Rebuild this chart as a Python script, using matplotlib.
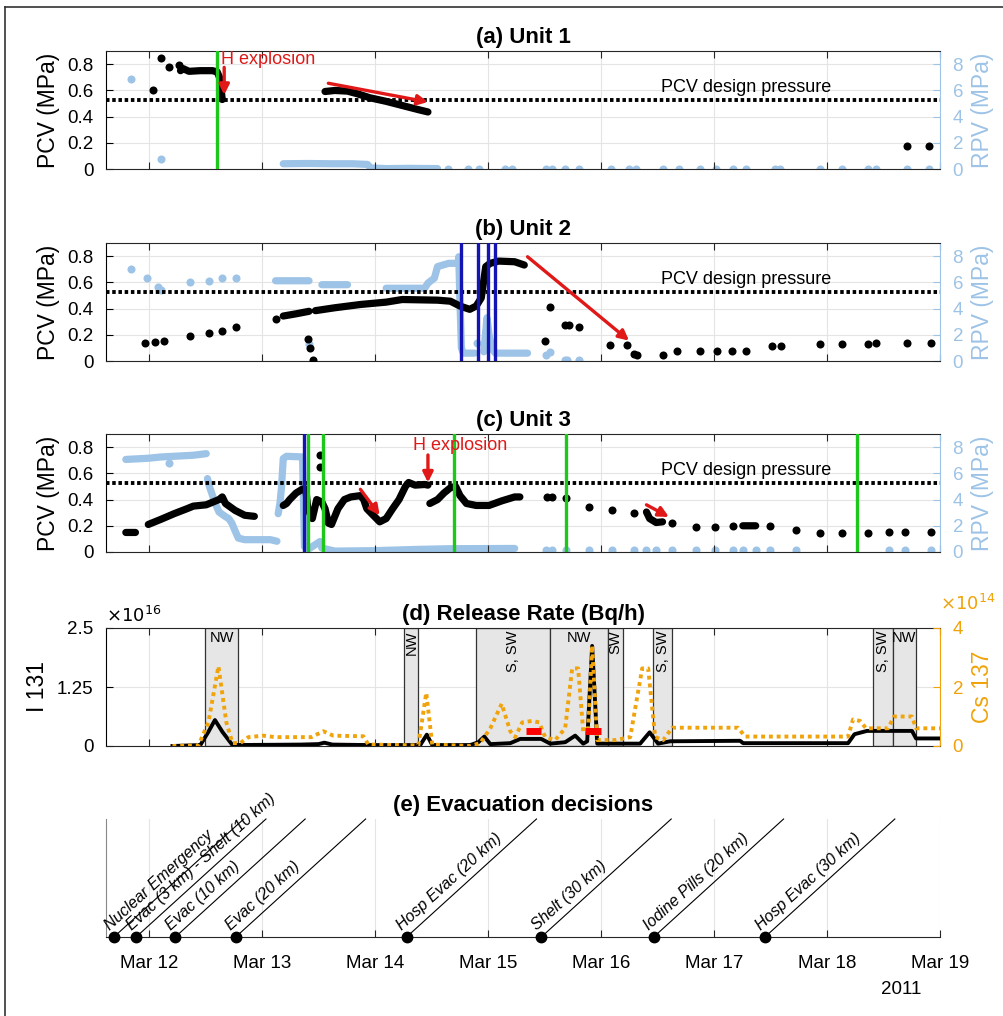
import numpy as np
import matplotlib
matplotlib.use('Agg')
import matplotlib.pyplot as plt
import matplotlib.dates as mdates
from matplotlib.lines import Line2D
from matplotlib.patches import Rectangle
from datetime import datetime

nan = np.nan

# ---------------- data (time = fractional day of March 2011) ----------------
DESIGN_PRESSURE = 0.528

# Unit 1
U1_PCV_LINE_T = [12.275, 12.30, 12.35, 12.45, 12.559, 12.60, 12.62, 12.635, 12.645, nan,
                 13.555, 13.641, 13.754, 13.84, 13.953, 14.096, 14.267, 14.38, 14.466]
U1_PCV_LINE_V = [0.75, 0.765, 0.745, 0.75, 0.75, 0.74, 0.70, 0.60, 0.53, nan,
                 0.591, 0.599, 0.594, 0.574, 0.543, 0.516, 0.478, 0.453, 0.435]
U1_PCV_DOT_T = [12.036, 12.104, 12.172, 12.263, 18.705, 18.905]
U1_PCV_DOT_V = [0.60, 0.843, 0.775, 0.795, 0.176, 0.176]
U1_RPV_LINE_T = [13.185, 13.4, 13.6, 13.8, 13.93, 13.96, 14.1, 14.3, 14.551]
U1_RPV_LINE_V = [0.4, 0.42, 0.4, 0.4, 0.35, 0.08, 0.03, 0.05, 0.03]
U1_RPV_DOT_T = [11.837, 12.104, 14.648, 14.819, 14.921, 15.149, 15.206, 15.507, 15.564,
                15.678, 15.803, 16.088, 16.247, 16.304, 16.543, 16.685, 16.873, 17.015,
                17.169, 17.283, 17.539, 17.579, 17.937, 18.136, 18.364, 18.432, 18.705, 18.905]
U1_RPV_DOT_V = [6.9, 0.75, 0.03, 0.03, 0.03, 0.03, 0.03, 0.03, 0.03, 0.03, 0.03, 0.03, 0.03,
                0.03, 0.03, 0.03, 0.03, 0.03, 0.03, 0.03, 0.03, 0.03, 0.03, 0.03, 0.03, 0.03,
                0.03, 0.03]
U1_GREEN = [12.599]
U1_BLUE = []

# Unit 2
U2_PCV_LINE_T = [13.185, 13.299, 13.413, nan, 13.470, 13.641, 13.868, 14.096, 14.238, 14.551,
                 14.665, 14.750, 14.836, 14.893, 14.938, 14.978, 15.018, 15.092, 15.234, 15.319]
U2_PCV_LINE_V = [0.343, 0.36, 0.379, nan, 0.384, 0.406, 0.431, 0.449, 0.469, 0.464,
                 0.456, 0.419, 0.394, 0.419, 0.481, 0.72, 0.745, 0.762, 0.757, 0.732]
U2_PCV_DOT_T = [11.962, 12.047, 12.133, 12.360, 12.531, 12.645, 12.770, 13.117, 13.402, 13.419,
                13.447, 15.501, 15.547, 15.678, 15.718, 15.803, 16.076, 16.230, 16.287, 16.315,
                16.543, 16.668, 16.873, 17.027, 17.158, 17.283, 17.511, 17.596, 17.937, 18.136,
                18.364, 18.432, 18.705, 18.916]
U2_PCV_DOT_V = [0.138, 0.148, 0.155, 0.188, 0.21, 0.228, 0.256, 0.318, 0.168, 0.10,
                0.005, 0.155, 0.414, 0.273, 0.273, 0.256, 0.125, 0.125, 0.05, 0.048,
                0.043, 0.078, 0.078, 0.078, 0.078, 0.078, 0.113, 0.113, 0.133, 0.13,
                0.13, 0.135, 0.138, 0.138]
U2_RPV_LINE_T = [13.117, 13.413, nan, 13.527, 13.754, nan, 14.096, 14.437, 14.466, 14.523,
                 14.551, 14.65, 14.733, 14.739, 14.748, 14.755, 14.762, 14.779, 14.881, nan,
                 14.961, 14.989, 15.007, 15.035, 15.063, 15.348]
U2_RPV_LINE_V = [6.12, 6.12, nan, 5.82, 5.82, nan, 5.55, 5.55, 5.94, 6.32,
                 7.2, 7.45, 7.45, 7.95, 5.0, 3.0, 1.0, 0.6, 0.6, nan,
                 0.7, 3.3, 2.0, 0.9, 0.6, 0.6]
U2_RPV_DOT_T = [11.837, 11.979, 12.076, 12.104, 12.360, 12.531, 12.645, 12.770, 13.413,
                14.904, 15.507, 15.547, 15.678, 15.701, 15.803]
U2_RPV_DOT_V = [7.02, 6.32, 5.64, 5.45, 6.02, 6.12, 6.32, 6.32, 1.3,
                1.4, 0.43, 0.68, 0.1, 0.1, 0.05]
U2_GREEN = []
U2_BLUE = [14.762, 14.910, 14.995, 15.063]

# Unit 3
U3_PCV_LINE_T = [11.791, 11.876, nan, 11.990, 12.104, 12.218, 12.332, 12.389, 12.503, 12.616,
                 12.645, 12.673, 12.759, 12.844, 12.929, nan,
                 13.185, 13.214, 13.242, 13.299, 13.356, 13.385, 13.402, 13.442, 13.481, 13.527,
                 13.555, 13.584, 13.612, 13.669, 13.726, 13.783, 13.868, 13.897, 13.925, 13.982,
                 14.039, 14.096, 14.153, 14.210, 14.267, 14.295, 14.352, 14.437, 14.466, nan,
                 14.483, 14.551, 14.608, 14.665, 14.711, 14.750, 14.807, 14.893, 15.007, 15.120,
                 15.234, 15.280, nan, 16.401, 16.429, 16.486, 16.543, nan, 17.254, 17.368]
U3_PCV_LINE_V = [0.149, 0.149, nan, 0.21, 0.25, 0.292, 0.33, 0.35, 0.36, 0.40,
                 0.42, 0.37, 0.317, 0.28, 0.272, nan,
                 0.355, 0.37, 0.40, 0.45, 0.48, 0.48, 0.33, 0.255, 0.40, 0.38,
                 0.33, 0.22, 0.21, 0.33, 0.40, 0.42, 0.43, 0.40, 0.33, 0.28,
                 0.23, 0.255, 0.33, 0.40, 0.50, 0.53, 0.51, 0.515, 0.51, nan,
                 0.37, 0.40, 0.45, 0.49, 0.50, 0.43, 0.37, 0.355, 0.355, 0.39,
                 0.42, 0.42, nan, 0.305, 0.255, 0.225, 0.23, nan, 0.20, 0.20]
U3_PCV_DOT_T = [13.510, 13.510, 15.519, 15.564, 15.689, 15.889, 16.099, 16.287, 16.628, 16.839,
                17.010, 17.169, 17.499, 17.727, 17.937, 18.136, 18.364, 18.546, 18.694, 18.916]
U3_PCV_DOT_V = [0.74, 0.65, 0.42, 0.42, 0.41, 0.34, 0.32, 0.30, 0.22, 0.19,
                0.19, 0.20, 0.195, 0.17, 0.145, 0.145, 0.145, 0.15, 0.155, 0.15]
U3_RPV_LINE_T = [11.791, 11.990, 12.104, 12.389, 12.503, nan,
                 12.514, 12.531, 12.559, 12.588, 12.616, 12.673, 12.702, 12.730, 12.759, 12.787,
                 12.844, 12.958, 13.072, 13.129, nan,
                 13.140, 13.157, 13.169, 13.185, 13.214, 13.356, 13.373, 13.385, 13.413, 13.510,
                 13.527, 13.641, 13.982, 14.381, 14.665, 15.234]
U3_RPV_LINE_V = [7.06, 7.15, 7.25, 7.38, 7.5, nan,
                 5.6, 5.0, 4.3, 3.6, 3.05, 2.7, 2.55, 2.2, 1.6, 1.06,
                 0.94, 0.94, 0.94, 0.82, nan,
                 2.92, 3.8, 4.9, 7.13, 7.3, 7.25, 0.4, 0.32, 0.25, 0.8,
                 0.3, 0.07, 0.1, 0.2, 0.25, 0.27]
U3_RPV_DOT_T = [12.172, 15.507, 15.564, 15.689, 15.889, 16.099, 16.287, 16.401, 16.486, 16.628,
                16.839, 17.010, 17.169, 17.254, 17.368, 17.499, 17.727, 18.546, 18.694, 18.916]
U3_RPV_DOT_V = [6.76, 0.12, 0.12, 0.12, 0.12, 0.12, 0.12, 0.12, 0.12, 0.12,
                0.12, 0.12, 0.12, 0.12, 0.12, 0.12, 0.12, 0.12, 0.12, 0.12]
U3_GREEN = [13.407, 13.538, 14.693, 15.689, 18.267]
U3_BLUE = [13.367]

# red arrows: (t0, v0, t1, v1)
U1_ARROWS = [(13.584, 0.654, 14.466, 0.511), (12.662, 0.775, 12.662, 0.565)]
U2_ARROWS = [(15.348, 0.795, 16.247, 0.155)]
U3_ARROWS = [(13.868, 0.478, 14.039, 0.28), (16.401, 0.36, 16.600, 0.267),
             (14.466, 0.74, 14.466, 0.53)]
U1_H_TEXT = (12.633, 0.838)
U3_H_TEXT = (14.75, 0.81)

# Release rates: I-131 (x1e16 Bq/h), Cs-137 (x1e14 Bq/h)
I131_T = [12.204, 12.451, 12.522, 12.580, 12.646, 12.735, 13.336, 13.496, 13.549, 13.62,
          13.938, 14.398, 14.456, 14.504, 14.841, 14.912, 14.965, 15.018, 15.195, 15.283,
          15.469, 15.549, 15.681, 15.770, 15.841, 15.876, 15.920, 15.965, 16.345, 16.429,
          16.504, 16.611, 17.230, 17.257, 18.186, 18.243, 18.354, 18.752, 18.788, 19.0]
I131_V = [0, 0.02, 0.3, 0.55, 0.3, 0.02, 0.03, 0.04, 0.07, 0.03,
          0.02, 0.02, 0.24, 0.02, 0.02, 0.08, 0.2, 0.04, 0.06, 0.15,
          0.15, 0.05, 0.08, 0.22, 0.05, 0.1, 2.12, 0.05, 0.05, 0.29,
          0.05, 0.1, 0.11, 0.06, 0.06, 0.25, 0.32, 0.32, 0.16, 0.16]
CS137_T = [12.204, 12.434, 12.522, 12.611, 12.681, 12.735, 12.805, 12.876, 13.009, 13.115,
           13.434, 13.540, 13.628, 13.894, 13.938, 14.381, 14.451, 14.504, 14.841, 14.929,
           15.018, 15.119, 15.195, 15.239, 15.301, 15.389, 15.451, 15.504, 15.593, 15.681,
           15.743, 15.796, 15.841, 15.885, 15.920, 15.965, 16.124, 16.257, 16.363, 16.416,
           16.478, 16.549, 16.628, 17.212, 17.274, 18.186, 18.230, 18.292, 18.345, 18.540,
           18.593, 18.752, 18.788, 19.0]
CS137_V = [0, 0.02, 0.8, 2.7, 0.8, 0.1, 0.1, 0.3, 0.35, 0.3,
           0.3, 0.5, 0.35, 0.33, 0.05, 0.02, 1.8, 0.05, 0.0, 0.1,
           0.6, 1.43, 0.5, 0.3, 0.8, 0.85, 0.8, 0.3, 0.2, 0.6,
           2.63, 2.63, 0.5, 0.6, 3.4, 0.2, 0.2, 0.3, 2.63, 2.63,
           0.3, 0.2, 0.62, 0.62, 0.32, 0.32, 0.9, 0.85, 0.6, 0.6,
           1.0, 1.0, 0.6, 0.6]
RED_BAR_T0 = [15.336, 15.858]
RED_BAR_T1 = [15.469, 16.000]
RED_BAR_V = [0.5, 0.5]

WIND_T0 = [12.491, 14.257, 14.894, 15.549, 16.062, 16.460, 18.407, 18.580]
WIND_T1 = [12.788, 14.381, 15.549, 16.062, 16.190, 16.628, 18.580, 18.788]
WIND_LABEL = ['NW', 'NW', 'S, SW', 'NW', 'SW', 'S, SW', 'S, SW', 'NW']
WIND_VERTICAL = [False, True, True, False, True, True, True, False]

# Evacuation decisions
EVAC_T = [11.685, 11.882, 12.229, 12.764, 14.277, 15.470, 16.465, 17.450]
EVAC_LABEL = ['Nuclear Emergency', 'Evac (3 km) - Shelt (10 km)', 'Evac (10 km)',
              'Evac (20 km)', 'Hosp Evac (20 km)', 'Shelt (30 km)',
              'Iodine Pills (20 km)', 'Hosp Evac (30 km)']
EVAC_LINE_DT = 1.15

# ---------------- style ----------------
plt.rcParams['font.family'] = ['Liberation Sans', 'DejaVu Sans']
plt.rcParams['axes.linewidth'] = 0.8

BLACK = '#000000'
AXC = '#262626'
LBLUE = '#9DC3E6'
ORANGE = '#F0A30A'
GREEN = '#1CC81C'
DBLUE = '#1414B4'
RED = '#E01818'
GRID = '#E4E4E4'

TICK_FS = 13.5
LAB_FS = 16.5
TITLE_FS = 16
ANN_FS = 13
YPAD = 9

BASE = mdates.date2num(datetime(2011, 3, 1))


def mnum(t):
    return BASE + np.asarray(t, dtype=float) - 1.0


XMIN = mnum(11 + 14.77 / 24)
XMAX = mnum(19.0)

fig = plt.figure(figsize=(10.04, 10.16), dpi=100)

L = 106 / 1004
W = (940 - 106) / 1004
H = 118 / 1016
BOTTOMS = [1 - 169 / 1016, 1 - 361 / 1016, 1 - 552 / 1016, 1 - 746 / 1016, 1 - 937 / 1016]


def style_x(ax, labels=False):
    ax.set_xlim(XMIN, XMAX)
    ax.xaxis.set_major_locator(mdates.DayLocator())
    ax.xaxis.set_major_formatter(mdates.DateFormatter('%b %d'))
    ax.tick_params(axis='x', direction='in', length=5, width=0.8, color=AXC,
                   top=True, bottom=True, labelbottom=labels, labelsize=TICK_FS, pad=13)


def dots(ax, lt, lv, dt, dv, color, z):
    ax.plot(mnum(lt), lv, '-', color=color, lw=5.2, solid_capstyle='round',
            solid_joinstyle='round', zorder=z)
    ax.plot(mnum(dt), dv, 'o', color=color, ms=5.8, mec='none', zorder=z)


def unit_panel(idx, title, pcv, rpv, greens, blues, arrows, htext):
    rect = [L, BOTTOMS[idx], W, H]
    axr = fig.add_axes(rect)
    ax = fig.add_axes(rect, sharex=axr)
    ax.patch.set_visible(False)
    # right axis (RPV), drawn behind
    axr.set_ylim(0, 9)
    axr.set_yticks([0, 2, 4, 6, 8])
    axr.yaxis.tick_right()
    axr.yaxis.set_label_position('right')
    axr.set_ylabel('RPV (MPa)', color=LBLUE, fontsize=LAB_FS, labelpad=6)
    axr.tick_params(axis='y', direction='in', length=5, colors=LBLUE, labelsize=TICK_FS,
                    pad=YPAD)
    axr.grid(True, color=GRID, lw=0.8)
    axr.set_axisbelow(True)
    for s in axr.spines.values():
        s.set_visible(False)
    dots(axr, rpv[0], rpv[1], rpv[2], rpv[3], LBLUE, 3)
    # left axis (PCV)
    style_x(ax)
    axr.tick_params(axis='x', bottom=False, top=False, labelbottom=False)
    ax.set_ylim(0, 0.9)
    ax.set_yticks([0, 0.2, 0.4, 0.6, 0.8])
    ax.set_yticklabels(['0', '0.2', '0.4', '0.6', '0.8'])
    ax.tick_params(axis='y', direction='in', length=5, colors=BLACK, labelsize=TICK_FS,
                   right=False, pad=YPAD)
    ax.set_ylabel('PCV (MPa)', fontsize=LAB_FS, labelpad=5)
    for k in ['top', 'bottom']:
        ax.spines[k].set_color(AXC)
    ax.spines['left'].set_color(BLACK)
    ax.spines['right'].set_color(LBLUE)
    ax.axhline(DESIGN_PRESSURE, color=BLACK, lw=2.8, ls=(0, (0.9, 0.7)), zorder=2)
    ax.text(mnum(17.28), DESIGN_PRESSURE + 0.025, 'PCV design pressure', ha='center',
            va='bottom', fontsize=ANN_FS, zorder=6)
    dots(ax, pcv[0], pcv[1], pcv[2], pcv[3], BLACK, 4)
    for g in greens:
        ax.axvline(mnum(g), color=GREEN, lw=2.4, zorder=5)
    for b in blues:
        ax.axvline(mnum(b), color=DBLUE, lw=2.4, zorder=5)
    for (t0, v0, t1, v1) in arrows:
        ax.annotate('', xy=(mnum(t1), v1), xytext=(mnum(t0), v0),
                    arrowprops=dict(arrowstyle='-|>', color=RED, lw=2.4,
                                    mutation_scale=15, shrinkA=0, shrinkB=0), zorder=7)
    if htext is not None:
        ax.text(mnum(htext[0]), htext[1], 'H explosion', color=RED, fontsize=ANN_FS,
                ha=htext[2], va='center', zorder=7)
    ax.set_title(title, fontsize=TITLE_FS, fontweight='bold', pad=6)
    return ax


unit_panel(0, '(a) Unit 1',
           (U1_PCV_LINE_T, U1_PCV_LINE_V, U1_PCV_DOT_T, U1_PCV_DOT_V),
           (U1_RPV_LINE_T, U1_RPV_LINE_V, U1_RPV_DOT_T, U1_RPV_DOT_V),
           U1_GREEN, U1_BLUE, U1_ARROWS, (U1_H_TEXT[0], U1_H_TEXT[1], 'left'))
unit_panel(1, '(b) Unit 2',
           (U2_PCV_LINE_T, U2_PCV_LINE_V, U2_PCV_DOT_T, U2_PCV_DOT_V),
           (U2_RPV_LINE_T, U2_RPV_LINE_V, U2_RPV_DOT_T, U2_RPV_DOT_V),
           U2_GREEN, U2_BLUE, U2_ARROWS, None)
unit_panel(2, '(c) Unit 3',
           (U3_PCV_LINE_T, U3_PCV_LINE_V, U3_PCV_DOT_T, U3_PCV_DOT_V),
           (U3_RPV_LINE_T, U3_RPV_LINE_V, U3_RPV_DOT_T, U3_RPV_DOT_V),
           U3_GREEN, U3_BLUE, U3_ARROWS, (U3_H_TEXT[0], U3_H_TEXT[1], 'center'))

# ---------------- (d) release rate ----------------
rect = [L, BOTTOMS[3], W, H]
axi = fig.add_axes(rect)
axc = fig.add_axes(rect, sharex=axi)
axc.patch.set_visible(False)
style_x(axi)
axc.tick_params(axis='x', bottom=False, top=False, labelbottom=False)
axi.set_ylim(0, 2.5)
axi.set_yticks([0, 1.25, 2.5])
axi.set_yticklabels(['0', '1.25', '2.5'])
axi.tick_params(axis='y', direction='in', length=5, labelsize=TICK_FS, right=False, pad=YPAD)
axi.grid(True, color=GRID, lw=0.8)
axi.set_axisbelow(True)
axi.set_ylabel('I 131', fontsize=LAB_FS, labelpad=6)
for k in ['top', 'bottom']:
    axi.spines[k].set_color(AXC)
axi.spines['right'].set_color(ORANGE)
for t0, t1, lab, vert in zip(WIND_T0, WIND_T1, WIND_LABEL, WIND_VERTICAL):
    axi.add_patch(Rectangle((mnum(t0), 0), mnum(t1) - mnum(t0), 2.5, facecolor='#E6E6E6',
                            edgecolor='#333333', lw=0.9, zorder=1))
    xc = (mnum(t0) + mnum(t1)) / 2
    if vert:
        axi.text(xc, 2.44, lab, rotation=90, ha='center', va='top', fontsize=10.5, zorder=2)
    else:
        axi.text(xc, 2.44, lab, ha='center', va='top', fontsize=10.5, zorder=2)
axi.plot(mnum(I131_T), I131_V, '-', color=BLACK, lw=2.8, zorder=3)
axi.text(0.0, 1.015, r'$\times10^{16}$', transform=axi.transAxes, ha='left', va='bottom',
         fontsize=13)
axi.set_title('(d) Release Rate (Bq/h)', fontsize=TITLE_FS, fontweight='bold', pad=6)

axc.set_ylim(0, 4)
axc.set_yticks([0, 2, 4])
axc.yaxis.tick_right()
axc.yaxis.set_label_position('right')
axc.tick_params(axis='y', direction='in', length=5, colors=ORANGE, labelsize=TICK_FS, pad=YPAD)
axc.set_ylabel('Cs 137', color=ORANGE, fontsize=LAB_FS, labelpad=6)
for s in axc.spines.values():
    s.set_visible(False)
axc.plot(mnum(CS137_T), CS137_V, color=ORANGE, lw=2.8, ls=(0, (1.0, 1.0)), zorder=4)
for t0, t1, v in zip(RED_BAR_T0, RED_BAR_T1, RED_BAR_V):
    axc.plot([mnum(t0), mnum(t1)], [v, v], color='red', lw=5, solid_capstyle='butt', zorder=5)
axc.text(1.0, 1.12, r'$\times10^{14}$', transform=axc.transAxes, ha='left', va='bottom',
         fontsize=13, color=ORANGE)

# ---------------- (e) evacuation decisions ----------------
axe = fig.add_axes([L, BOTTOMS[4], W, H])
style_x(axe, labels=True)
axe.tick_params(axis='x', top=False)
axe.set_ylim(0, 1)
axe.set_yticks([])
axe.grid(True, axis='x', color=GRID, lw=0.8)
axe.set_axisbelow(True)
axe.spines['top'].set_visible(False)
axe.spines['right'].set_visible(False)
axe.spines['left'].set_color('#888888')
axe.spines['bottom'].set_color(AXC)
axe.set_title('(e) Evacuation decisions', fontsize=TITLE_FS, fontweight='bold', pad=6)
p0 = axe.transData.transform((mnum(EVAC_T[0]), 0))
p1 = axe.transData.transform((mnum(EVAC_T[0] + EVAC_LINE_DT), 1))
ang = np.degrees(np.arctan2(p1[1] - p0[1], p1[0] - p0[0]))
for t, lab in zip(EVAC_T, EVAC_LABEL):
    axe.plot([mnum(t), mnum(t + EVAC_LINE_DT)], [0, 1], color=BLACK, lw=0.8, zorder=3,
             clip_on=False)
    axe.plot([mnum(t)], [0], 'o', color=BLACK, ms=7.5, zorder=5, clip_on=False)
    axe.text(mnum(t) - 0.02, 0.035, lab, rotation=ang, rotation_mode='anchor', ha='left',
             va='bottom', fontsize=11.5, style='italic', zorder=4)

fig.text(901 / 1004, 1 - 990 / 1016, '2011', ha='center', va='center', fontsize=TICK_FS)

# figure frame
fig.add_artist(Line2D([5 / 1004, 5 / 1004], [0, 1 - 7 / 1016], color='#333333', lw=1.2))
fig.add_artist(Line2D([5 / 1004, 1], [1 - 7 / 1016, 1 - 7 / 1016], color='#333333', lw=1.2))

fig.savefig('out.png', dpi=100)
